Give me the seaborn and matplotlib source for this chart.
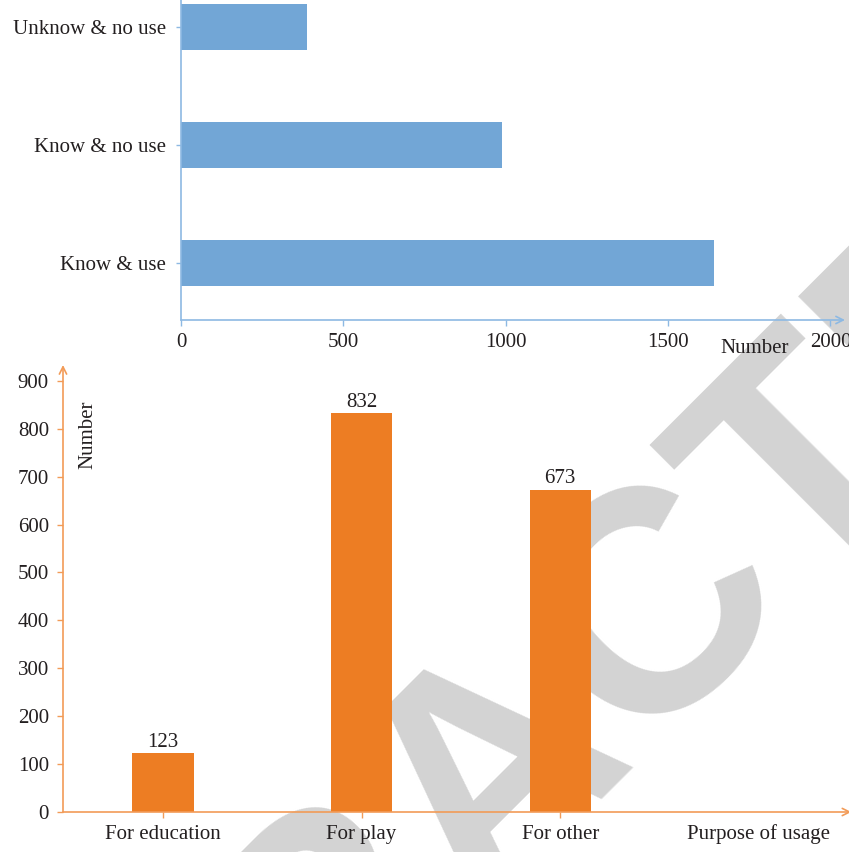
import matplotlib
matplotlib.use("Agg")
import matplotlib.pyplot as plt
import seaborn as sns
import pandas as pd

# awareness of the tool (top chart)
awareness = ["Unknow & no use", "Know & no use", "Know & use"]
awareness_counts = [388, 990, 1643]
awareness_ticks = [0, 500, 1000, 1500, 2000]

# purpose of usage (bottom chart)
purposes = ["For education", "For play", "For other"]
purpose_counts = [123, 832, 673]
purpose_ticks = list(range(0, 1000, 100))

blue = "#72a6d6"
blue_axis = "#8db9e3"
orange = "#ed7d23"
orange_axis = "#f29b57"
text_col = "#231f20"
W, H = 849, 852
PX = 0.72  # points per pixel at dpi 100

sns.set_style("white")
plt.rcParams['font.family'] = ['Liberation Serif', 'DejaVu Serif']
plt.rcParams['font.size'] = 15
plt.rcParams['text.color'] = text_col

fig = plt.figure(figsize=(W / 100, H / 100), dpi=100)

# watermark behind everything
fig.text(554 / W, 1 - 826 / H, "RETRACTED", rotation=45, rotation_mode='anchor',
         ha='center', va='baseline', fontsize=227, fontweight='bold',
         color='#d3d3d3', family='Liberation Sans', zorder=-1)


def axis_arrow(ax, start, end, color):
    ax.annotate('', xy=end, xytext=start, xycoords='axes fraction',
                textcoords='axes fraction', annotation_clip=False,
                arrowprops=dict(arrowstyle='->', color=color, lw=1.2,
                                mutation_scale=13, shrinkA=0, shrinkB=0))


# top chart: horizontal bars
df_top = pd.DataFrame({'Group': awareness, 'Count': awareness_counts})
ax1 = fig.add_axes([181 / W, 1 - 320 / H, (845 - 181) / W, 320 / H])
ax1.patch.set_alpha(0)
sns.barplot(data=df_top, x='Count', y='Group', orient='h', color=blue, saturation=1,
            width=0.39, errorbar=None, linewidth=0, ax=ax1)
ax1.set_xlim(0, 2045)
ax1.set_ylim(2.483, -0.23)
ax1.set_xticks(awareness_ticks)
ax1.set_xlabel('')
ax1.set_ylabel('')
for s in ['top', 'right', 'bottom']:
    ax1.spines[s].set_visible(False)
ax1.spines['left'].set_color(blue_axis)
ax1.spines['left'].set_linewidth(1.2)
ax1.tick_params(axis='x', bottom=True, direction='out', length=6 * PX, width=1,
                color=blue_axis, labelcolor=text_col, pad=7 * PX, labelsize=15)
ax1.tick_params(axis='y', left=True, direction='out', length=5 * PX, width=1,
                color=blue_axis, labelcolor=text_col, pad=10 * PX, labelsize=15)
axis_arrow(ax1, (0, 0), (1, 0), blue_axis)
ax1.annotate('Number', xy=(1766, 0), xycoords=('data', 'axes fraction'),
             xytext=(0, -14), textcoords='offset points', ha='center', va='top',
             fontsize=15, annotation_clip=False)

# bottom chart: vertical bars
df_bot = pd.DataFrame({'Purpose': purposes, 'Count': purpose_counts})
ax2 = fig.add_axes([63 / W, 1 - 812 / H, (W - 63) / W, (812 - 365) / H])
ax2.patch.set_alpha(0)
sns.barplot(data=df_bot, x='Purpose', y='Count', color=orange, saturation=1,
            width=0.31, errorbar=None, linewidth=0, ax=ax2)
ax2.set_xlim(-0.503, 3.453)
ax2.set_ylim(0, 933)
ax2.set_yticks(purpose_ticks)
ax2.set_xlabel('')
ax2.set_ylabel('')
for s in ['top', 'right', 'bottom', 'left']:
    ax2.spines[s].set_visible(False)
ax2.tick_params(axis='x', bottom=True, direction='out', length=6 * PX, width=1,
                color=orange_axis, labelcolor=text_col, pad=7 * PX, labelsize=15)
ax2.tick_params(axis='y', left=True, direction='out', length=6 * PX, width=1,
                color=orange_axis, labelcolor=text_col, pad=8 * PX, labelsize=15)
axis_arrow(ax2, (0, 0), (1.003, 0), orange_axis)
axis_arrow(ax2, (0, 0), (0, 1), orange_axis)
ax2.bar_label(ax2.containers[0], padding=1, fontsize=15, color=text_col)
ax2.annotate('Purpose of usage', xy=(3, 0), xycoords=('data', 'axes fraction'),
             xytext=(0, -9), textcoords='offset points', ha='center', va='top',
             fontsize=15, annotation_clip=False)
ax2.text(-0.377, 787, 'Number', rotation=90, ha='center', va='center', fontsize=15)

fig.savefig('out.png', dpi=100)
